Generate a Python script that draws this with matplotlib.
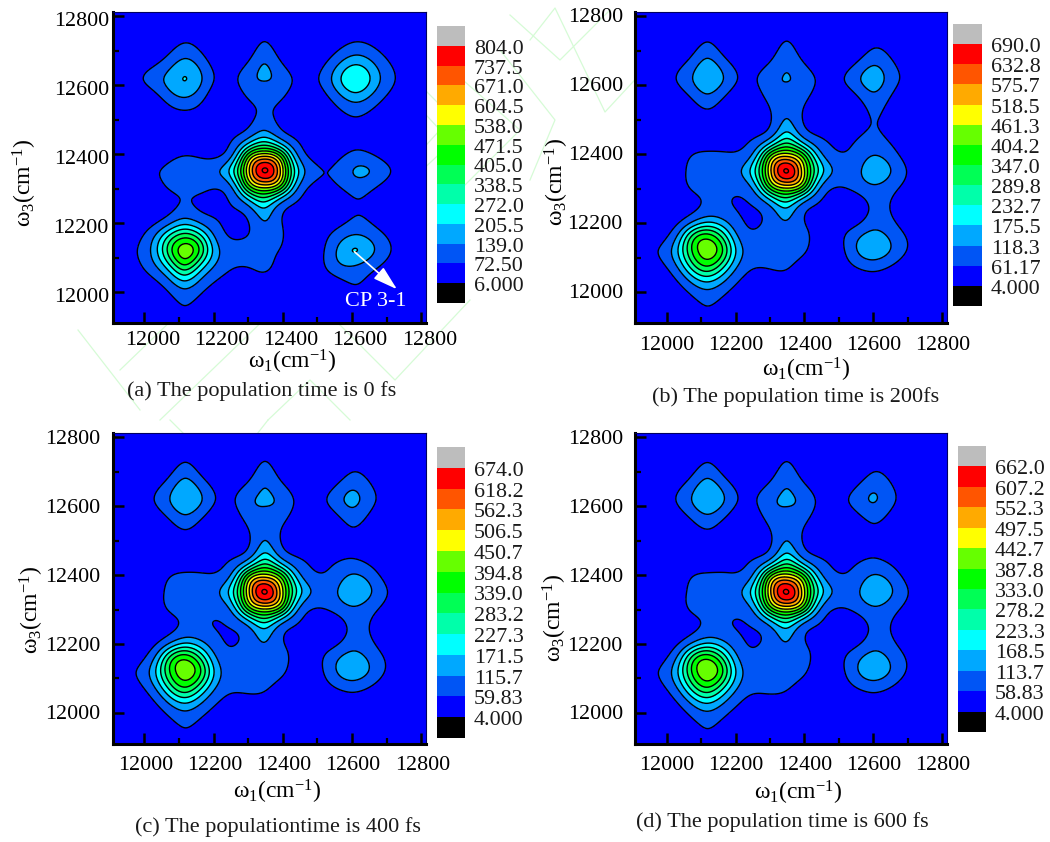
import numpy as np
import matplotlib
matplotlib.use("Agg")
import matplotlib.pyplot as plt
from matplotlib.colors import ListedColormap, BoundaryNorm
from matplotlib.lines import Line2D
from matplotlib.transforms import ScaledTranslation

plt.rcParams['font.family'] = ['Liberation Serif', 'DejaVu Serif']
plt.rcParams['mathtext.fontset'] = 'custom'
plt.rcParams['mathtext.rm'] = 'Liberation Serif'
plt.rcParams['mathtext.it'] = 'Liberation Serif:italic'
plt.rcParams['mathtext.bf'] = 'Liberation Serif:bold'

W, H = 1050, 842

# Band colours, bottom to top of every colour key
band_colors = ['#000000', '#0000ff', '#0055f5', '#00a8ff', '#00ffff', '#00ffaa', '#00ff55',
               '#00ff00', '#66ff00', '#ffff00', '#ffaa00', '#ff5500', '#ff0000', '#bdbdbd']

levels_a = [6.0, 72.5, 139.0, 205.5, 272.0, 338.5, 405.0, 471.5, 538.0, 604.5, 671.0, 737.5, 804.0]
levels_b = [4.0, 61.17, 118.3, 175.5, 232.7, 289.8, 347.0, 404.2, 461.3, 518.5, 575.7, 632.8, 690.0]
levels_c = [4.0, 59.83, 115.7, 171.5, 227.3, 283.2, 339.0, 394.8, 450.7, 506.5, 562.3, 618.2, 674.0]
levels_d = [4.0, 58.83, 113.7, 168.5, 223.3, 278.2, 333.0, 387.8, 442.7, 497.5, 552.3, 607.2, 662.0]

labels_a = ['6.000', '72.50', '139.0', '205.5', '272.0', '338.5', '405.0', '471.5', '538.0', '604.5', '671.0', '737.5', '804.0']
labels_b = ['4.000', '61.17', '118.3', '175.5', '232.7', '289.8', '347.0', '404.2', '461.3', '518.5', '575.7', '632.8', '690.0']
labels_c = ['4.000', '59.83', '115.7', '171.5', '227.3', '283.2', '339.0', '394.8', '450.7', '506.5', '562.3', '618.2', '674.0']
labels_d = ['4.000', '58.83', '113.7', '168.5', '223.3', '278.2', '333.0', '387.8', '442.7', '497.5', '552.3', '607.2', '662.0']

# Sample positions on the omega_1 and omega_3 axes
w1_a = [11900, 12000, 12060, 12115, 12170, 12235, 12290, 12345, 12405, 12465, 12530, 12610, 12710, 12820]
w1_bcd = [11900, 12000, 12060, 12118, 12175, 12235, 12290, 12348, 12405, 12465, 12530, 12600, 12700, 12820]
w3_all = [11900, 12000, 12060, 12120, 12180, 12240, 12297, 12352, 12405, 12465, 12530, 12615, 12715, 12820]

z_a = [
    [10, 12, 18, 42, 20, 14, 12, 12, 11, 10, 10, 14, 10, 9],
    [12, 26, 62, 120, 72, 36, 30, 30, 22, 16, 20, 58, 16, 11],
    [15, 68, 170, 320, 180, 78, 62, 74, 42, 26, 70, 110, 40, 13],
    [33, 100, 310, 505, 340, 108, 95, 85, 62, 32, 90, 207, 75, 20],
    [16, 62, 175, 285, 190, 68, 62, 115, 68, 32, 55, 115, 50, 14],
    [12, 22, 50, 88, 65, 62, 95, 195, 78, 42, 28, 66, 25, 12],
    [14, 25, 65, 82, 78, 88, 320, 495, 320, 78, 50, 92, 40, 12],
    [20, 45, 82, 105, 105, 175, 500, 810, 500, 135, 72, 145, 74, 18],
    [14, 22, 42, 62, 56, 78, 320, 510, 320, 72, 45, 80, 38, 12],
    [12, 17, 22, 28, 32, 45, 78, 150, 72, 40, 32, 50, 20, 11],
    [12, 16, 48, 76, 50, 22, 48, 80, 50, 22, 42, 100, 35, 12],
    [16, 75, 145, 206, 130, 50, 100, 141, 100, 50, 115, 265, 90, 20],
    [10, 14, 40, 82, 50, 18, 28, 85, 28, 14, 35, 88, 38, 10],
    [8, 9, 10, 14, 14, 10, 11, 14, 11, 9, 9, 14, 9, 8],
]
z_b = [
    [10, 12, 16, 36, 18, 12, 10, 10, 10, 10, 10, 10, 10, 8],
    [12, 22, 60, 105, 64, 30, 25, 25, 18, 15, 15, 25, 14, 10],
    [14, 52, 175, 290, 170, 64, 55, 58, 32, 22, 40, 62, 28, 12],
    [30, 90, 290, 440, 290, 98, 90, 82, 62, 30, 80, 165, 58, 18],
    [15, 42, 175, 290, 175, 66, 76, 100, 65, 38, 60, 118, 48, 14],
    [12, 20, 42, 80, 72, 55, 85, 165, 68, 40, 25, 72, 28, 11],
    [14, 25, 55, 75, 70, 90, 285, 430, 285, 72, 60, 100, 42, 12],
    [18, 30, 64, 90, 85, 155, 430, 695, 430, 150, 88, 158, 58, 16],
    [14, 22, 50, 64, 62, 85, 290, 445, 290, 88, 65, 108, 40, 12],
    [12, 16, 24, 32, 35, 42, 65, 175, 72, 45, 45, 66, 25, 11],
    [12, 14, 30, 60, 32, 22, 50, 105, 52, 22, 25, 72, 16, 12],
    [15, 42, 95, 165, 100, 48, 90, 119, 90, 42, 75, 145, 42, 18],
    [9, 14, 30, 72, 32, 18, 25, 72, 25, 12, 16, 54, 16, 9],
    [8, 9, 10, 13, 13, 10, 11, 13, 11, 9, 9, 11, 9, 8],
]
z_c = [
    [10, 12, 16, 36, 18, 12, 10, 10, 10, 10, 10, 10, 10, 8],
    [12, 22, 60, 105, 64, 32, 26, 26, 18, 15, 15, 25, 14, 10],
    [14, 52, 170, 285, 165, 68, 62, 58, 34, 24, 38, 60, 28, 12],
    [28, 88, 285, 430, 285, 96, 88, 82, 62, 32, 76, 160, 55, 18],
    [15, 42, 170, 285, 170, 68, 78, 102, 66, 38, 58, 115, 46, 14],
    [12, 20, 42, 78, 70, 57, 82, 160, 68, 40, 25, 72, 28, 11],
    [14, 25, 55, 74, 70, 90, 280, 420, 278, 72, 58, 100, 42, 12],
    [18, 30, 62, 88, 84, 150, 420, 680, 420, 145, 92, 165, 62, 16],
    [14, 22, 48, 62, 60, 82, 285, 435, 285, 86, 64, 112, 42, 12],
    [12, 16, 24, 32, 35, 42, 62, 170, 70, 45, 42, 50, 24, 11],
    [12, 14, 30, 58, 32, 22, 48, 100, 50, 22, 22, 54, 14, 12],
    [15, 40, 95, 165, 100, 46, 92, 120, 92, 38, 62, 128, 36, 16],
    [9, 14, 30, 72, 32, 18, 25, 72, 25, 12, 14, 46, 14, 9],
    [8, 9, 10, 13, 13, 10, 11, 13, 11, 9, 9, 11, 9, 8],
]
z_d = [
    [10, 12, 16, 36, 18, 12, 10, 10, 10, 10, 10, 10, 10, 8],
    [12, 22, 60, 105, 64, 32, 26, 26, 18, 15, 15, 25, 14, 10],
    [14, 52, 168, 280, 163, 68, 62, 56, 34, 24, 38, 60, 28, 12],
    [28, 86, 280, 430, 280, 94, 86, 80, 60, 32, 74, 155, 54, 18],
    [15, 42, 168, 280, 168, 66, 76, 100, 66, 38, 56, 113, 46, 14],
    [12, 20, 42, 76, 68, 55, 80, 155, 66, 40, 25, 70, 28, 11],
    [14, 25, 55, 72, 68, 88, 275, 415, 272, 72, 56, 98, 42, 12],
    [18, 30, 60, 85, 82, 145, 415, 668, 415, 142, 88, 160, 60, 16],
    [14, 22, 48, 60, 60, 80, 280, 430, 280, 84, 62, 108, 42, 12],
    [12, 16, 24, 32, 35, 42, 60, 165, 68, 44, 40, 50, 24, 11],
    [12, 14, 30, 56, 32, 22, 48, 98, 50, 22, 22, 48, 14, 12],
    [15, 40, 95, 162, 100, 46, 90, 118, 90, 38, 60, 116, 34, 16],
    [9, 14, 30, 70, 32, 18, 25, 70, 25, 12, 14, 46, 14, 9],
    [8, 9, 10, 13, 13, 10, 11, 13, 11, 9, 9, 11, 9, 8],
]

captions = ['(a) The population time is 0 fs', '(b) The population time is 200fs',
            '(c) The populationtime is 400 fs', '(d) The population time is 600 fs']
tick_values = [12000, 12200, 12400, 12600, 12800]


def spline_weights(nodes, fine):
    """Weights of a natural cubic spline through the nodes, evaluated at fine."""
    x = np.asarray(nodes, float)
    n = len(x)
    h = np.diff(x)
    A = np.zeros((n, n))
    B = np.zeros((n, n))
    A[0, 0] = A[-1, -1] = 1
    for i in range(1, n - 1):
        A[i, i - 1], A[i, i], A[i, i + 1] = h[i - 1], 2 * (h[i - 1] + h[i]), h[i]
        B[i, i - 1] = 6 / h[i - 1]
        B[i, i] = -6 / h[i - 1] - 6 / h[i]
        B[i, i + 1] = 6 / h[i]
    M = np.linalg.solve(A, B)
    idx = np.clip(np.searchsorted(x, fine) - 1, 0, n - 2)
    out = np.zeros((len(fine), n))
    for k, (f, i) in enumerate(zip(fine, idx)):
        a = (x[i + 1] - f) / h[i]
        b = (f - x[i]) / h[i]
        out[k, i] += a
        out[k, i + 1] += b
        out[k] += ((a ** 3 - a) * M[i] + (b ** 3 - b) * M[i + 1]) * h[i] ** 2 / 6
    return out


def surface(w1, w3, z, fx, fy):
    return np.exp(spline_weights(w3, fy) @ np.log(np.array(z, float)) @ spline_weights(w1, fx).T)


def px_axes(left, right, top, bottom):
    return fig.add_axes([left / W, 1 - bottom / H, (right - left) / W, (bottom - top) / H])


fig = plt.figure(figsize=(W / 100, H / 100), dpi=100, facecolor='white')

# Faint green outlines behind the panels
watermark = [
    [(78, 330), (140, 410)], [(120, 370), (260, 235)],
    [(160, 420), (300, 285)], [(300, 285), (395, 380), (470, 300)],
    [(300, 120), (380, 45), (465, 130), (385, 205), (300, 120)],
    [(320, 125), (380, 65), (440, 130), (385, 190), (320, 125)],
    [(530, 40), (555, 8), (605, 112), (695, 15)], [(500, 50), (555, 120), (530, 180)],
    [(170, 420), (225, 475), (268, 420)], [(268, 420), (310, 380), (350, 420)],
    [(440, 60), (520, 130), (460, 190)], [(510, 15), (560, 60), (610, 10)],
]
for pts in watermark:
    p = np.array(pts, float)
    fig.add_artist(Line2D(p[:, 0] / W, 1 - p[:, 1] / H, color='#d6fbd6', lw=0.9, zorder=-5))

panels = [
    dict(z=z_a, w1=w1_a, lev=levels_a, lab=labels_a, ax=(113, 425.7, 12, 323), cb=(437, 465, 26, 303),
         cbx=474, xo=8, yo=-3, pad=3, xpad=5.5, xl=(292, 362), yl=(25, 183), cap=(262, 391)),
    dict(z=z_b, w1=w1_bcd, lev=levels_b, lab=labels_b, ax=(635.3, 946.7, 12, 323), cb=(953, 982, 24, 306),
         cbx=991, xo=0, yo=1.5, pad=9, xpad=9, xl=(806, 370), yl=(557, 182), cap=(796, 397)),
    dict(z=z_c, w1=w1_bcd, lev=levels_c, lab=labels_c, ax=(113, 425.7, 432.7, 744), cb=(437, 465, 447, 738),
         cbx=474, xo=1, yo=0.5, pad=9, xpad=9, xl=(277, 792), yl=(32, 610), cap=(278, 827)),
    dict(z=z_d, w1=w1_bcd, lev=levels_d, lab=labels_d, ax=(635.3, 946.7, 432.7, 744), cb=(958, 986, 446, 732),
         cbx=995, xo=0, yo=0.5, pad=9, xpad=9, xl=(798, 793), yl=(555, 618), cap=(782, 822)),
]

xlim = (11909, 12813)
ylim = (11910, 12813)
fx = np.linspace(11900, 12820, 460)
fy = np.linspace(11900, 12820, 460)
FS = 15.8

for i, P in enumerate(panels):
    ax = px_axes(*P['ax'])
    Z = surface(P['w1'], w3_all, P['z'], fx, fy)
    ax.contourf(fx, fy, Z, levels=P['lev'], colors=band_colors[1:13], extend='both')
    ax.contour(fx, fy, Z, levels=P['lev'], colors='k', linewidths=1.0)
    ax.set_xlim(*xlim)
    ax.set_ylim(*ylim)
    ax.set_xticks(tick_values)
    ax.set_yticks(tick_values)
    ax.set_xticks(np.arange(12100, 12800, 200), minor=True)
    ax.set_yticks(np.arange(12100, 12800, 200), minor=True)
    ax.tick_params(which='major', direction='in', length=8, width=1.8, color='k', labelsize=FS)
    ax.tick_params(which='minor', direction='in', length=4, width=1.6, color='k')
    ax.tick_params(axis='x', which='major', pad=P['xpad'])
    ax.tick_params(axis='y', which='major', pad=P['pad'])
    for s, lw in [('left', 2.2), ('bottom', 2.2), ('top', 0.8), ('right', 0.8)]:
        ax.spines[s].set_linewidth(lw)
        ax.spines[s].set_color('k' if lw > 1 else '#000060')
    off_x = ScaledTranslation(P['xo'] / 100, 0, fig.dpi_scale_trans)
    off_y = ScaledTranslation(0, P['yo'] / 100, fig.dpi_scale_trans)
    for t in ax.get_xticklabels():
        t.set_transform(t.get_transform() + off_x)
    for t in ax.get_yticklabels():
        t.set_transform(t.get_transform() + off_y)

    # Colour key: one box per band, labelled at the band boundaries
    cax = px_axes(*P['cb'])
    cmap = ListedColormap(band_colors)
    cax.pcolormesh([0, 1], np.arange(15), np.arange(14).reshape(-1, 1), cmap=cmap,
                   norm=BoundaryNorm(np.arange(-0.5, 14.5), 14))
    cax.set_xlim(0, 1)
    cax.set_ylim(0, 14)
    cax.axis('off')
    box_h = (P['cb'][3] - P['cb'][2]) / 14
    for k, lab in enumerate(P['lab']):
        y_px = P['cb'][3] - (k + 1) * box_h + 3.5
        fig.text(P['cbx'] / W, 1 - y_px / H, lab, fontsize=FS, ha='left', va='center', color='#1a1a1a')

    fig.text(P['xl'][0] / W, 1 - P['xl'][1] / H, r'$\mathregular{ω_1(cm^{-1})}$', fontsize=17, ha='center', va='center')
    fig.text(P['yl'][0] / W, 1 - P['yl'][1] / H, r'$\mathregular{ω_3(cm^{-1})}$', fontsize=17, ha='center', va='center', rotation=90)
    fig.text(P['cap'][0] / W, 1 - P['cap'][1] / H, captions[i], fontsize=16, ha='center', va='center', color='#1a1a1a')

    if i == 0:
        ax.annotate('', xy=(12730, 12008), xytext=(12607, 12117),
                    arrowprops=dict(arrowstyle='-|>,head_width=0.45,head_length=1.5', color='white', lw=1.2, shrinkA=0, shrinkB=0))
        ax.text(12670, 11972, 'CP 3-1', color='white', fontsize=16, ha='center', va='center')

fig.savefig('out.png', dpi=100, facecolor='white')
